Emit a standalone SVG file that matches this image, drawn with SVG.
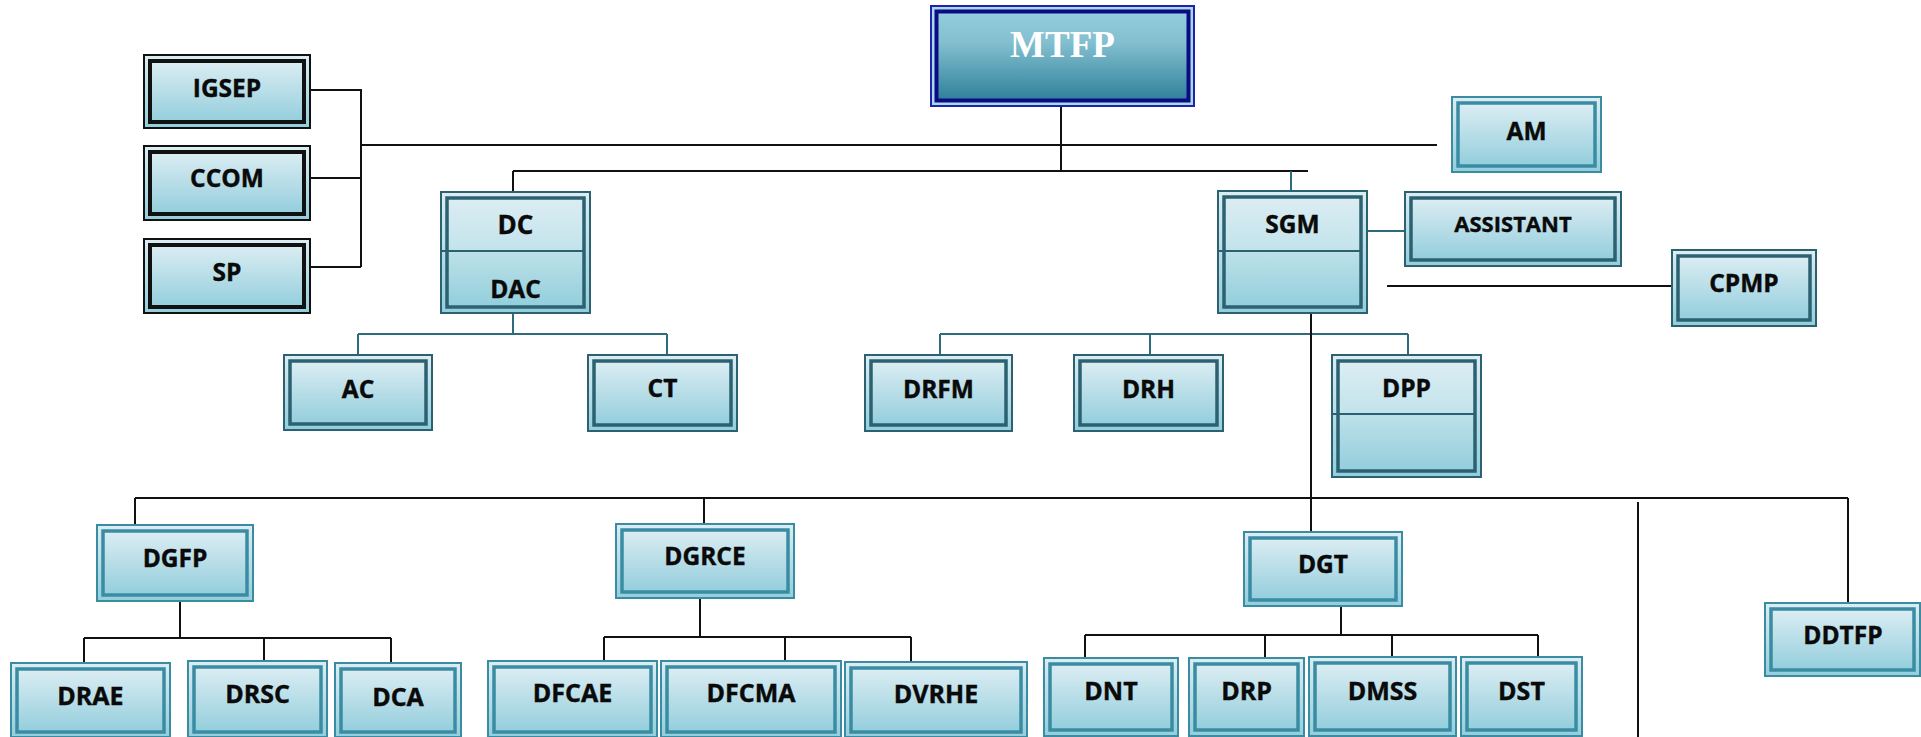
<svg xmlns="http://www.w3.org/2000/svg" width="1921" height="737" viewBox="0 0 1921 737">
  <defs>
    <linearGradient id="gBox" x1="0" y1="0" x2="0" y2="1">
      <stop offset="0" stop-color="#dcedf3"/>
      <stop offset="1" stop-color="#93cedc"/>
    </linearGradient>
    <linearGradient id="gTop" x1="0" y1="0" x2="0" y2="1">
      <stop offset="0" stop-color="#dcedf3"/>
      <stop offset="1" stop-color="#c2e3eb"/>
    </linearGradient>
    <linearGradient id="gBottom" x1="0" y1="0" x2="0" y2="1">
      <stop offset="0" stop-color="#bde1e9"/>
      <stop offset="1" stop-color="#93cedc"/>
    </linearGradient>
    <linearGradient id="gHead" x1="0" y1="0" x2="0" y2="1">
      <stop offset="0" stop-color="#95cedd"/>
      <stop offset="0.35" stop-color="#82bfd0"/>
      <stop offset="1" stop-color="#2f8098"/>
    </linearGradient>
  </defs>
  <style>
    .o { fill: url(#gBox); stroke-width: 2; }
    .i { fill: url(#gBox); stroke-width: 3.5; }
    .dark .o, .dark .i, .dark .div { stroke: #2b6170; }
    .light .o, .light .i { stroke: #3a8ca3; }
    .black .o, .black .i { stroke: #111; }
    .black .i { stroke-width: 4; }
    .div { stroke-width: 2; fill: none; }
    .half-t { fill: url(#gTop); stroke: none; }
    .half-b { fill: url(#gBottom); stroke: none; }
    text { font-family: "Open Sans", "Liberation Sans", sans-serif; font-weight: bold; font-size: 24.5px; fill: #0a0a0a; text-anchor: middle; stroke: #0a0a0a; stroke-width: 0.4px; }
    .low text { font-size: 25px; }
    .head text { font-family: "Liberation Serif", "DejaVu Serif", serif; font-size: 37px; fill: #fff; stroke: none; }
    .k { fill: none; stroke: #111; stroke-width: 2; }
    .t { fill: none; stroke: #2e6b7b; stroke-width: 2; }
  </style>

  <!-- connectors -->
  <g id="connectors">
    <!-- top level -->
    <path class="k" d="M1061 107 V171 M361 145 H1437 M513 171 H1308 M513 171 V191"/>
    <path class="k" d="M308 90 H361 V267 M308 178 H361 M308 267 H361"/>
    <path class="k" d="M1387 286 H1671"/>
    <path class="t" d="M1291 171 V190 M1361 231 H1404"/>
    <!-- DC branch -->
    <path class="t" d="M513 314 V334 M358 334 H667 M358 334 V354 M667 334 V354"/>
    <!-- SGM branch -->
    <path class="t" d="M940 334 H1408 M940 334 V354 M1150 334 V354 M1408 334 V354"/>
    <path class="k" d="M1311 314 V531"/>
    <!-- general directorates -->
    <path class="k" d="M135 498 H1848 M135 498 V524 M704 498 V523 M1848 498 V602 M1638 502 V737"/>
    <path class="k" d="M180 602 V638 M84 638 H391 M84 638 V662 M264 638 V660 M391 638 V662"/>
    <path class="k" d="M700 599 V637 M604 637 H911 M604 637 V660 M785 637 V660 M911 637 V661"/>
    <path class="k" d="M1341 607 V635 M1085 635 H1538 M1085 635 V657 M1265 635 V657 M1392 635 V656 M1538 635 V656"/>
  </g>

  <!-- head -->
  <g id="n-mtfp" class="head">
    <rect x="931" y="6" width="263" height="100" fill="#a9d9e3" stroke="#1f22b0" stroke-width="2"/>
    <rect x="936.5" y="11.5" width="252" height="89" fill="url(#gHead)" stroke="#0b0b86" stroke-width="4"/>
    <text x="1062.5" y="57">MTFP</text>
  </g>

  <!-- attached offices -->
  <g id="n-igsep" class="black">
    <rect class="o" x="144" y="55" width="166" height="73"/>
    <rect class="i" x="150" y="61" width="154" height="61"/>
    <text x="227" y="97">IGSEP</text>
  </g>
  <g id="n-ccom" class="black">
    <rect class="o" x="144" y="146" width="166" height="74"/>
    <rect class="i" x="150" y="152" width="154" height="62"/>
    <text x="227" y="187">CCOM</text>
  </g>
  <g id="n-sp" class="black">
    <rect class="o" x="144" y="239" width="166" height="74"/>
    <rect class="i" x="150" y="245" width="154" height="62"/>
    <text x="227" y="281">SP</text>
  </g>
  <g id="n-am" class="light">
    <rect class="o" x="1452" y="97" width="149" height="75"/>
    <rect class="i" x="1458" y="103" width="137" height="63"/>
    <text x="1526.5" y="140">AM</text>
  </g>

  <!-- DC / DAC -->
  <g id="n-dc" class="dark">
    <rect class="o" x="441" y="192" width="149" height="121"/>
    <rect class="half-t" x="447" y="198" width="137" height="53"/>
    <rect class="half-b" x="447" y="251" width="137" height="56"/>
    <rect class="i" x="447" y="198" width="137" height="109" style="fill:none"/>
    <line class="div" x1="442" y1="251" x2="584" y2="251"/>
    <text x="515.5" y="234" style="font-size:26px">DC</text>
    <text x="515.5" y="298">DAC</text>
  </g>

  <!-- SGM -->
  <g id="n-sgm" class="dark">
    <rect class="o" x="1218" y="191" width="149" height="122"/>
    <rect class="half-t" x="1224" y="197" width="137" height="54"/>
    <rect class="half-b" x="1224" y="251" width="137" height="56"/>
    <rect class="i" x="1224" y="197" width="137" height="110" style="fill:none"/>
    <line class="div" x1="1219" y1="251" x2="1361" y2="251"/>
    <text x="1292.5" y="233">SGM</text>
  </g>
  <g id="n-assistant" class="dark">
    <rect class="o" x="1405" y="192" width="216" height="74"/>
    <rect class="i" x="1411" y="198" width="204" height="62"/>
    <text x="1513" y="232" style="font-size:22px">ASSISTANT</text>
  </g>
  <g id="n-cpmp" class="dark">
    <rect class="o" x="1672" y="250" width="144" height="76"/>
    <rect class="i" x="1678" y="256" width="132" height="64"/>
    <text x="1744" y="292">CPMP</text>
  </g>

  <!-- DC units -->
  <g id="n-ac" class="dark">
    <rect class="o" x="284" y="355" width="148" height="75"/>
    <rect class="i" x="290" y="361" width="136" height="63"/>
    <text x="358" y="398">AC</text>
  </g>
  <g id="n-ct" class="dark">
    <rect class="o" x="588" y="355" width="149" height="76"/>
    <rect class="i" x="594" y="361" width="137" height="64"/>
    <text x="662.5" y="397">CT</text>
  </g>

  <!-- SGM units -->
  <g id="n-drfm" class="dark">
    <rect class="o" x="865" y="355" width="147" height="76"/>
    <rect class="i" x="871" y="361" width="135" height="64"/>
    <text x="938.5" y="398">DRFM</text>
  </g>
  <g id="n-drh" class="dark">
    <rect class="o" x="1074" y="355" width="149" height="76"/>
    <rect class="i" x="1080" y="361" width="137" height="64"/>
    <text x="1148.5" y="398">DRH</text>
  </g>
  <g id="n-dpp" class="dark">
    <rect class="o" x="1332" y="355" width="149" height="122"/>
    <rect class="half-t" x="1338" y="361" width="137" height="53"/>
    <rect class="half-b" x="1338" y="414" width="137" height="57"/>
    <rect class="i" x="1338" y="361" width="137" height="110" style="fill:none"/>
    <line class="div" x1="1333" y1="414" x2="1475" y2="414"/>
    <text x="1406.5" y="397">DPP</text>
  </g>

  <!-- general directorates -->
  <g id="n-dgfp" class="light">
    <rect class="o" x="97" y="525" width="156" height="76"/>
    <rect class="i" x="103" y="531" width="144" height="64"/>
    <text x="175" y="567">DGFP</text>
  </g>
  <g id="n-dgrce" class="light">
    <rect class="o" x="616" y="524" width="178" height="74"/>
    <rect class="i" x="622" y="530" width="166" height="62"/>
    <text x="705" y="565">DGRCE</text>
  </g>
  <g id="n-dgt" class="light">
    <rect class="o" x="1244" y="532" width="158" height="74"/>
    <rect class="i" x="1250" y="538" width="146" height="62"/>
    <text x="1323" y="573">DGT</text>
  </g>
  <g id="n-ddtfp" class="light">
    <rect class="o" x="1765" y="603" width="155" height="73"/>
    <rect class="i" x="1771" y="609" width="143" height="61"/>
    <text x="1843" y="644">DDTFP</text>
  </g>

  <!-- DGFP directorates -->
  <g id="n-drae" class="light low">
    <rect class="o" x="11" y="663" width="159" height="74"/>
    <rect class="i" x="17" y="669" width="147" height="63"/>
    <text x="90.5" y="705">DRAE</text>
  </g>
  <g id="n-drsc" class="light low">
    <rect class="o" x="188" y="661" width="139" height="76"/>
    <rect class="i" x="194" y="667" width="127" height="65"/>
    <text x="257.5" y="703">DRSC</text>
  </g>
  <g id="n-dca" class="light low">
    <rect class="o" x="335" y="663" width="126" height="74"/>
    <rect class="i" x="341" y="669" width="114" height="63"/>
    <text x="398" y="706">DCA</text>
  </g>

  <!-- DGRCE directorates -->
  <g id="n-dfcae" class="light low">
    <rect class="o" x="488" y="661" width="169" height="76"/>
    <rect class="i" x="494" y="667" width="157" height="65"/>
    <text x="572.5" y="702">DFCAE</text>
  </g>
  <g id="n-dfcma" class="light low">
    <rect class="o" x="661" y="661" width="180" height="76"/>
    <rect class="i" x="667" y="667" width="168" height="65"/>
    <text x="751" y="702">DFCMA</text>
  </g>
  <g id="n-dvrhe" class="light low">
    <rect class="o" x="845" y="662" width="182" height="75"/>
    <rect class="i" x="851" y="668" width="170" height="64"/>
    <text x="936" y="703">DVRHE</text>
  </g>

  <!-- DGT directorates -->
  <g id="n-dnt" class="light low">
    <rect class="o" x="1044" y="658" width="134" height="78"/>
    <rect class="i" x="1050" y="664" width="122" height="66"/>
    <text x="1111" y="700">DNT</text>
  </g>
  <g id="n-drp" class="light low">
    <rect class="o" x="1189" y="658" width="115" height="78"/>
    <rect class="i" x="1195" y="664" width="103" height="66"/>
    <text x="1246.5" y="700">DRP</text>
  </g>
  <g id="n-dmss" class="light low">
    <rect class="o" x="1309" y="657" width="147" height="79"/>
    <rect class="i" x="1315" y="663" width="135" height="67"/>
    <text x="1382.5" y="700">DMSS</text>
  </g>
  <g id="n-dst" class="light low">
    <rect class="o" x="1461" y="657" width="121" height="79"/>
    <rect class="i" x="1467" y="663" width="109" height="67"/>
    <text x="1521.5" y="700">DST</text>
  </g>
</svg>
